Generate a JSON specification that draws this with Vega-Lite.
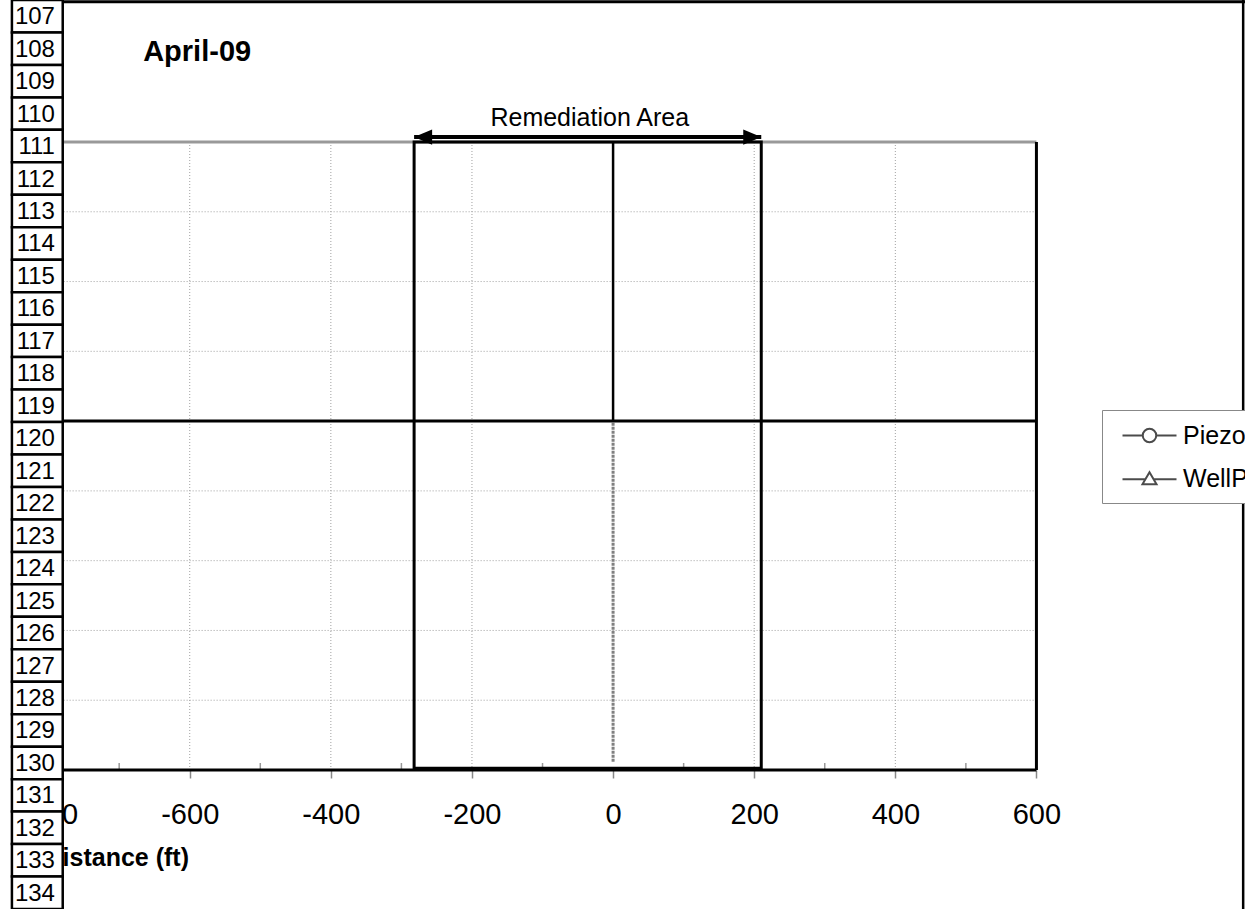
{
  "$schema": "https://vega.github.io/schema/vega-lite/v6.json",
  "width": 1245,
  "height": 909,
  "autosize": "none",
  "padding": 0,
  "background": "white",
  "config": {"view": {"stroke": null}, "font": "Liberation Sans"},
  "layer": [
    {
      "layer": [
        {
          "data": {"values": [{"v": -600}, {"v": -400}, {"v": -200}, {"v": 200}, {"v": 400}]},
          "mark": {"type": "rule", "color": "#a0a0a0", "strokeWidth": 1, "strokeDash": [1, 2]},
          "encoding": {
            "x": {"field": "v", "type": "quantitative", "scale": {"domain": [-868.9, 895.6], "nice": false, "zero": false},
              "axis": {"values": [-800, -600, -400, -200, 0, 200, 400, 600], "offset": -139, "domain": false, "grid": false,
                "tickColor": "#888888", "tickSize": 8, "tickWidth": 1.5, "labelFont": "Liberation Sans", "labelFontSize": 29,
                "labelColor": "black", "labelPadding": 22, "labelFlush": false, "labelOverlap": false,
                "labelExpr": "'' + datum.value", "title": "Distance (ft)", "titleFont": "Liberation Sans", "titleFontSize": 25,
                "titleFontWeight": "bold", "titleColor": "black", "titleAnchor": "start", "titleAlign": "left",
                "titleX": 44, "titleY": 87, "titleBaseline": "middle", "zindex": 0}},
            "y": {"datum": 0, "scale": {"domain": [-19.92, 110.35], "nice": false, "zero": false}, "axis": null},
            "y2": {"datum": 90}
          }
        },
        {
          "data": {"values": [{"v": 10}, {"v": 20}, {"v": 30}, {"v": 40}, {"v": 60}, {"v": 70}, {"v": 80}]},
          "mark": {"type": "rule", "color": "#a0a0a0", "strokeWidth": 1, "strokeDash": [1, 2]},
          "encoding": {
            "x": {"datum": -800, "scale": {"domain": [-868.9, 895.6], "nice": false, "zero": false}},
            "x2": {"datum": 600},
            "y": {"field": "v", "type": "quantitative", "scale": {"domain": [-19.92, 110.35], "nice": false, "zero": false}, "axis": null}
          }
        },
        {
          "data": {"values": [{"v": -700}, {"v": -500}, {"v": -300}, {"v": -100}, {"v": 100}, {"v": 300}, {"v": 500}]},
          "mark": {"type": "rule", "color": "#999999", "strokeWidth": 1.5},
          "encoding": {
            "x": {"field": "v", "type": "quantitative", "scale": {"domain": [-868.9, 895.6], "nice": false, "zero": false}},
            "y": {"datum": 0, "scale": {"domain": [-19.92, 110.35], "nice": false, "zero": false}, "axis": null},
            "y2": {"datum": 1}
          }
        },
        {
          "data": {"values": [{}]},
          "mark": {"type": "rule", "color": "#999999", "strokeWidth": 3},
          "encoding": {
            "x": {"datum": -800, "scale": {"domain": [-868.9, 895.6], "nice": false, "zero": false}},
            "x2": {"datum": 600},
            "y": {"datum": 90, "scale": {"domain": [-19.92, 110.35], "nice": false, "zero": false}, "axis": null}
          }
        },
        {
          "data": {"values": [{}]},
          "mark": {"type": "rule", "color": "#808080", "strokeWidth": 3, "strokeDash": [3, 1]},
          "encoding": {
            "x": {"datum": 0, "scale": {"domain": [-868.9, 895.6], "nice": false, "zero": false}},
            "y": {"datum": 1.2, "scale": {"domain": [-19.92, 110.35], "nice": false, "zero": false}, "axis": null},
            "y2": {"datum": 50}
          }
        },
        {
          "data": {"values": [{}]},
          "mark": {"type": "rule", "color": "black", "strokeWidth": 3},
          "encoding": {
            "x": {"datum": -800, "scale": {"domain": [-868.9, 895.6], "nice": false, "zero": false}},
            "x2": {"datum": 600},
            "y": {"datum": 50, "scale": {"domain": [-19.92, 110.35], "nice": false, "zero": false}, "axis": null}
          }
        },
        {
          "data": {"values": [{}]},
          "mark": {"type": "rule", "color": "black", "strokeWidth": 3},
          "encoding": {
            "x": {"datum": -800, "scale": {"domain": [-868.9, 895.6], "nice": false, "zero": false}},
            "x2": {"datum": 600},
            "y": {"datum": 0, "scale": {"domain": [-19.92, 110.35], "nice": false, "zero": false}, "axis": null}
          }
        },
        {
          "data": {"values": [{}]},
          "mark": {"type": "rule", "color": "black", "strokeWidth": 2.5},
          "encoding": {
            "x": {"datum": 0, "scale": {"domain": [-868.9, 895.6], "nice": false, "zero": false}},
            "y": {"datum": 50, "scale": {"domain": [-19.92, 110.35], "nice": false, "zero": false}, "axis": null},
            "y2": {"datum": 90}
          }
        },
        {
          "data": {"values": [{}]},
          "mark": {"type": "rule", "color": "black", "strokeWidth": 3},
          "encoding": {
            "x": {"datum": 600, "scale": {"domain": [-868.9, 895.6], "nice": false, "zero": false}},
            "y": {"datum": 0, "scale": {"domain": [-19.92, 110.35], "nice": false, "zero": false}, "axis": null},
            "y2": {"datum": 90}
          }
        },
        {
          "data": {"values": [{"area": "Remediation Area", "start": -282, "end": 210}]},
          "layer": [
            {
              "mark": {"type": "rect", "fill": null, "fillOpacity": 0, "stroke": "black", "strokeWidth": 3},
              "encoding": {
                "x": {"field": "start", "type": "quantitative", "scale": {"domain": [-868.9, 895.6], "nice": false, "zero": false}},
                "x2": {"field": "end"},
                "y": {"datum": 0.25, "scale": {"domain": [-19.92, 110.35], "nice": false, "zero": false}, "axis": null},
                "y2": {"datum": 90}
              }
            },
            {
              "mark": {"type": "rule", "color": "black", "strokeWidth": 4},
              "encoding": {
                "x": {"field": "start", "type": "quantitative", "scale": {"domain": [-868.9, 895.6], "nice": false, "zero": false}},
                "x2": {"field": "end"},
                "y": {"datum": 90.7, "scale": {"domain": [-19.92, 110.35], "nice": false, "zero": false}, "axis": null}
              }
            },
            {
              "mark": {"type": "point", "shape": "M-1,0L1,-0.85L1,0.85Z", "size": 324, "filled": true, "color": "black", "opacity": 1, "xOffset": 9},
              "encoding": {
                "x": {"field": "start", "type": "quantitative", "scale": {"domain": [-868.9, 895.6], "nice": false, "zero": false}},
                "y": {"datum": 90.7, "scale": {"domain": [-19.92, 110.35], "nice": false, "zero": false}, "axis": null}
              }
            },
            {
              "mark": {"type": "point", "shape": "M1,0L-1,-0.85L-1,0.85Z", "size": 324, "filled": true, "color": "black", "opacity": 1, "xOffset": -9},
              "encoding": {
                "x": {"field": "end", "type": "quantitative", "scale": {"domain": [-868.9, 895.6], "nice": false, "zero": false}},
                "y": {"datum": 90.7, "scale": {"domain": [-19.92, 110.35], "nice": false, "zero": false}, "axis": null}
              }
            },
            {
              "mark": {"type": "text", "font": "Liberation Sans", "fontSize": 25, "color": "black", "align": "center", "baseline": "middle"},
              "encoding": {
                "x": {"datum": -33, "scale": {"domain": [-868.9, 895.6], "nice": false, "zero": false}},
                "y": {"datum": 93.5, "scale": {"domain": [-19.92, 110.35], "nice": false, "zero": false}, "axis": null},
                "text": {"field": "area"}
              }
            }
          ]
        },
        {
          "data": {"values": [{"label": "April-09"}]},
          "mark": {"type": "text", "font": "Liberation Sans", "fontSize": 29, "fontWeight": "bold", "color": "black", "align": "left", "baseline": "middle"},
          "encoding": {
            "x": {"datum": -666, "scale": {"domain": [-868.9, 895.6], "nice": false, "zero": false}},
            "y": {"datum": 102.9, "scale": {"domain": [-19.92, 110.35], "nice": false, "zero": false}, "axis": null},
            "text": {"field": "label"}
          }
        },
        {
          "data": {"values": [{"series": "Piezometer", "distance": null, "elevation": null}, {"series": "WellPoint", "distance": null, "elevation": null}]},
          "mark": {"type": "point", "color": "black", "filled": false, "size": 729, "strokeWidth": 2},
          "encoding": {
            "x": {"field": "distance", "type": "quantitative", "scale": {"domain": [-868.9, 895.6], "nice": false, "zero": false}},
            "y": {"field": "elevation", "type": "quantitative", "scale": {"domain": [-19.92, 110.35], "nice": false, "zero": false}, "axis": null},
            "shape": {"field": "series", "type": "nominal",
              "scale": {"domain": ["Piezometer", "WellPoint"],
                "range": ["M-2,0H-0.5M0.5,0H2M-0.5,0A0.5,0.5,0,1,1,0.5,0A0.5,0.5,0,1,1,-0.5,0Z", "M-2,0.05H-0.34M0.34,0.05H2M0,-0.46L0.52,0.42L-0.52,0.42Z"]},
              "legend": {"orient": "none", "legendX": 1102, "legendY": 410, "title": null, "strokeColor": "#888888", "fillColor": "white",
                "padding": 11, "symbolOffset": 22, "labelOffset": 19, "labelFont": "Liberation Sans", "labelFontSize": 25,
                "labelColor": "black", "rowPadding": 15, "symbolStrokeWidth": 2, "symbolSize": 729, "symbolStrokeColor": "black",
                "symbolFillColor": "white", "labelLimit": 300}}
          }
        },
        {
          "data": {"values": [{}]},
          "mark": {"type": "rule", "color": "black", "strokeWidth": 3},
          "encoding": {
            "x": {"datum": -780, "scale": {"domain": [-868.9, 895.6], "nice": false, "zero": false}},
            "x2": {"datum": 895.6},
            "y": {"datum": 110.1, "scale": {"domain": [-19.92, 110.35], "nice": false, "zero": false}, "axis": null}
          }
        },
        {
          "data": {"values": [{}]},
          "mark": {"type": "rule", "color": "black", "strokeWidth": 2.5},
          "encoding": {
            "x": {"datum": 893, "scale": {"domain": [-868.9, 895.6], "nice": false, "zero": false}},
            "y": {"datum": -19.92, "scale": {"domain": [-19.92, 110.35], "nice": false, "zero": false}, "axis": null},
            "y2": {"datum": 110.35}
          }
        }
      ]
    },
    {
      "data": {"values": [{"row": 107}, {"row": 108}, {"row": 109}, {"row": 110}, {"row": 111}, {"row": 112}, {"row": 113}, {"row": 114}, {"row": 115}, {"row": 116}, {"row": 117}, {"row": 118}, {"row": 119}, {"row": 120}, {"row": 121}, {"row": 122}, {"row": 123}, {"row": 124}, {"row": 125}, {"row": 126}, {"row": 127}, {"row": 128}, {"row": 129}, {"row": 130}, {"row": 131}, {"row": 132}, {"row": 133}, {"row": 134}]},
      "encoding": {
        "y": {"field": "row", "type": "ordinal", "axis": null, "scale": {"paddingInner": 0, "paddingOuter": 0}}
      },
      "layer": [
        {
          "mark": {"type": "rect", "fill": "white", "stroke": "black", "strokeWidth": 2.5},
          "encoding": {
            "x": {"datum": -852, "scale": {"domain": [-868.9, 895.6], "nice": false, "zero": false}},
            "x2": {"datum": -780}
          }
        },
        {
          "mark": {"type": "text", "font": "Liberation Sans", "fontSize": 24, "color": "black", "align": "right", "baseline": "middle", "dy": 1},
          "encoding": {
            "x": {"datum": -791, "scale": {"domain": [-868.9, 895.6], "nice": false, "zero": false}},
            "text": {"field": "row", "type": "ordinal"}
          }
        }
      ]
    }
  ],
  "resolve": {"scale": {"y": "independent"}, "axis": {"y": "independent"}}
}
